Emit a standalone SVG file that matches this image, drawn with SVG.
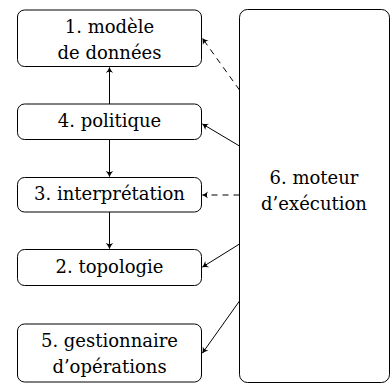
<svg xmlns="http://www.w3.org/2000/svg" width="390" height="383" viewBox="0 0 390 383">
<style>
.box{fill:#fff;stroke:#000;stroke-width:1}
.t{font-family:"DejaVu Serif","Liberation Serif",serif;font-size:18px;text-anchor:middle;fill:#000}
.c{fill:none;stroke:#000;stroke-width:1}
.d{stroke-dasharray:6,5}
</style>
<defs>
<marker id="ah" viewBox="-6 -4 8 8" refX="0" refY="0" markerWidth="8" markerHeight="8" markerUnits="userSpaceOnUse" orient="auto">
<path d="M-5.5,-3.6 Q-2,-0.8 0.5,0 Q-2,0.8 -5.5,3.6 Q-3.2,0 -5.5,-3.6 Z" fill="#000"/>
</marker>
</defs>
<g id="n1"><rect class="box" x="17.5" y="10" width="184" height="56.5" rx="7"/><text class="t" x="109.5" y="33">1. modèle</text><text class="t" x="109.5" y="58.5">de données</text></g>
<g id="n4"><rect class="box" x="17.5" y="104" width="184" height="35.5" rx="7"/><text class="t" x="109.5" y="126.5">4. politique</text></g>
<g id="n3"><rect class="box" x="17.5" y="177.5" width="184" height="34.5" rx="7"/><text class="t" x="109.5" y="199.5">3. interprétation</text></g>
<g id="n2"><rect class="box" x="17.5" y="249.5" width="184" height="36" rx="7"/><text class="t" x="109.5" y="273">2. topologie</text></g>
<g id="n5"><rect class="box" x="17.5" y="324" width="184" height="58" rx="7"/><text class="t" x="109.5" y="347">5. gestionnaire</text><text class="t" x="109.5" y="373">d’opérations</text></g>
<g id="n6"><rect class="box" x="239.5" y="9.5" width="150" height="373" rx="8"/><text class="t" x="314" y="183.5">6. moteur</text><text class="t" x="314" y="210">d’exécution</text></g>
<g id="connectors">
<line class="c" x1="109.5" y1="104" x2="109.5" y2="67.5" marker-end="url(#ah)"/>
<line class="c" x1="109.5" y1="139.5" x2="109.5" y2="176.5" marker-end="url(#ah)"/>
<line class="c" x1="109.5" y1="212" x2="109.5" y2="248.5" marker-end="url(#ah)"/>
<line class="c d" x1="239.5" y1="90" x2="202.5" y2="38.5" marker-end="url(#ah)"/>
<line class="c" x1="239.5" y1="146" x2="202.5" y2="124" marker-end="url(#ah)"/>
<line class="c d" x1="239.5" y1="195" x2="202.5" y2="195" marker-end="url(#ah)"/>
<line class="c" x1="239.5" y1="244" x2="202.5" y2="267" marker-end="url(#ah)"/>
<line class="c" x1="239.5" y1="301" x2="202.5" y2="353" marker-end="url(#ah)"/>
</g>
</svg>
